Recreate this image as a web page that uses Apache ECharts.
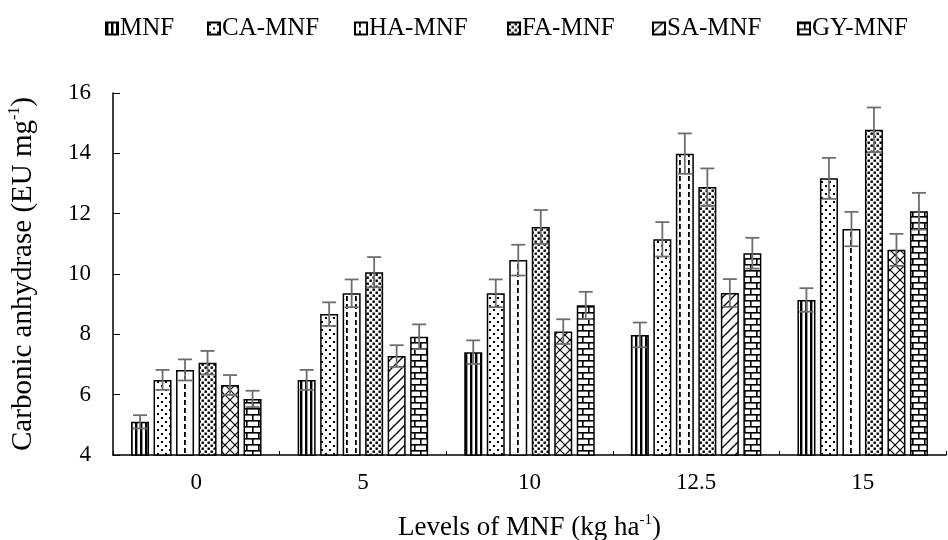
<!DOCTYPE html>
<html>
<head>
<meta charset="utf-8">
<script src="https://cdn.jsdelivr.net/npm/echarts@6/dist/echarts.min.js"></script>
<style>html,body{margin:0;padding:0;background:#fff}#c{width:948px;height:540px}</style>
</head>
<body>
<div id="c"></div>
<script>
var categories = ['0', '5', '10', '12.5', '15'];
var seriesNames = ['MNF', 'CA-MNF', 'HA-MNF', 'FA-MNF', 'SA-MNF', 'GY-MNF'];
var MNF    = [5.10, 6.49, 7.41, 7.98, 9.14];
var CA_MNF = [6.49, 8.67, 9.36, 11.15, 13.17];
var HA_MNF = [6.82, 9.36, 10.46, 13.99, 11.49];
var FA_MNF = [7.06, 10.06, 11.56, 12.88, 14.78];
var SA_MNF = [6.32, 7.28, 8.09, 9.37, 10.80];
var GY_MNF = [5.86, 7.92, 8.96, 10.69, 12.08];
var MNF_err    = [0.22, 0.33, 0.39, 0.41, 0.39];
var CA_MNF_err = [0.33, 0.39, 0.46, 0.57, 0.68];
var HA_MNF_err = [0.35, 0.46, 0.51, 0.67, 0.57];
var FA_MNF_err = [0.39, 0.50, 0.56, 0.62, 0.74];
var SA_MNF_err = [0.33, 0.36, 0.41, 0.46, 0.53];
var GY_MNF_err = [0.27, 0.41, 0.45, 0.51, 0.61];
var yTicks = [4, 6, 8, 10, 12, 14, 16];

var values = [MNF, CA_MNF, HA_MNF, FA_MNF, SA_MNF, GY_MNF];
var errors = [MNF_err, CA_MNF_err, HA_MNF_err, FA_MNF_err, SA_MNF_err, GY_MNF_err];

function makeCanvas(w, h, draw) {
  var c = document.createElement('canvas');
  c.width = w; c.height = h;
  var ctx = c.getContext('2d');
  ctx.fillStyle = '#fff'; ctx.fillRect(0, 0, w, h);
  ctx.fillStyle = '#000'; ctx.strokeStyle = '#000';
  draw(ctx, w, h);
  return c;
}
var patMNF = makeCanvas(5, 6, function (ctx) { ctx.fillRect(0, 0, 2.4, 6); });
var patCA = makeCanvas(8, 8, function (ctx) { ctx.fillRect(1, 1, 2, 2); ctx.fillRect(5, 5, 2, 2); });
var patHA = makeCanvas(9, 8, function (ctx) { ctx.fillRect(4, 0, 1.8, 5); });
var patFA = makeCanvas(6, 6, function (ctx) {
  ctx.fillRect(0.5, 0.5, 2.4, 2.4);
  ctx.fillRect(3.5, 3.5, 2.4, 2.4);
});
var patSAdiag = makeCanvas(10, 10, function (ctx) {
  ctx.lineWidth = 1.3;
  ctx.beginPath(); ctx.moveTo(-1, 11); ctx.lineTo(11, -1); ctx.stroke();
  ctx.beginPath(); ctx.moveTo(-1, 1); ctx.lineTo(1, -1); ctx.stroke();
  ctx.beginPath(); ctx.moveTo(9, 11); ctx.lineTo(11, 9); ctx.stroke();
});
var patSAcross = makeCanvas(10, 10, function (ctx) {
  ctx.lineWidth = 1.2;
  ctx.beginPath(); ctx.moveTo(-1, 11); ctx.lineTo(11, -1); ctx.stroke();
  ctx.beginPath(); ctx.moveTo(-1, -1); ctx.lineTo(11, 11); ctx.stroke();
});
var patGY = makeCanvas(12, 12, function (ctx) {
  ctx.fillRect(0, 0, 12, 1.6);
  ctx.fillRect(0, 6, 12, 1.6);
  ctx.fillRect(6, 0, 1.6, 6);
  ctx.fillRect(0, 6, 1.6, 6);
});
var patterns = [patMNF, patCA, patHA, patFA, patSAdiag, patGY];

var barWidth = 18;
var barGapPx = 4.5;

var series = seriesNames.map(function (name, si) {
  return {
    name: name,
    type: 'bar',
    barWidth: barWidth,
    barGap: '25%',
    itemStyle: {
      color: { image: patterns[si], repeat: 'repeat' },
      borderColor: '#000',
      borderWidth: 1.5
    },
    data: values[si].map(function (v, ci) {
      if (si === 4 && (ci === 0 || ci === 2 || ci === 4)) {
        return { value: v, itemStyle: { color: { image: patSAcross, repeat: 'repeat' } } };
      }
      return v;
    }),
    z: 2
  };
});

var errData = [];
values.forEach(function (arr, si) {
  arr.forEach(function (v, ci) {
    errData.push([ci, v, errors[si][ci], si]);
  });
});

series.push({
  type: 'custom',
  name: 'err',
  z: 5,
  silent: true,
  encode: { x: 0, y: 1 },
  data: errData,
  renderItem: function (params, api) {
    var ci = api.value(0), v = api.value(1), e = api.value(2), si = api.value(3);
    var hi = api.coord([ci, v + e]);
    var lo = api.coord([ci, v - e]);
    var x = hi[0] + (si - 2.5) * (barWidth + barGapPx);
    var cap = 7;
    var st = { stroke: '#6e6e6e', lineWidth: 1.8 };
    return {
      type: 'group',
      children: [
        { type: 'line', shape: { x1: x, y1: hi[1], x2: x, y2: lo[1] }, style: st },
        { type: 'line', shape: { x1: x - cap, y1: hi[1], x2: x + cap, y2: hi[1] }, style: st },
        { type: 'line', shape: { x1: x - cap, y1: lo[1], x2: x + cap, y2: lo[1] }, style: st }
      ]
    };
  }
});

var legendLefts = [100, 202, 349, 502, 647, 792];
var legends = seriesNames.map(function (n, i) {
  return {
    data: [n],
    left: legendLefts[i],
    top: 11,
    icon: 'rect',
    itemWidth: 12,
    itemHeight: 12,
    selectedMode: false,
    textStyle: { fontFamily: 'Liberation Serif', fontSize: 25, color: '#000', padding: [0, 0, 0, -3] }
  };
});

var serif = 'Liberation Serif';
var chart = echarts.init(document.getElementById('c'), null, { renderer: 'canvas' });
chart.setOption({
  animation: false,
  backgroundColor: '#fff',
  legend: legends,
  grid: { left: 113, right: 2, top: 93, bottom: 85, outerBoundsMode: 'none', containLabel: false },
  xAxis: {
    type: 'category',
    data: categories,
    boundaryGap: true,
    axisLine: { show: true, lineStyle: { color: '#000', width: 1.5 } },
    axisTick: { show: true, inside: true, length: 4, interval: 0, lineStyle: { color: '#000' } },
    axisLabel: { fontFamily: serif, fontSize: 23, color: '#000', margin: 16 },
    name: 'Levels of MNF (kg ha{sup|-1})',
    nameLocation: 'middle',
    nameGap: 58,
    nameTextStyle: {
      fontFamily: serif, fontSize: 27, color: '#000', lineHeight: 30,
      rich: { sup: { fontFamily: serif, fontSize: 15, color: '#000', verticalAlign: 'top', lineHeight: 30 } }
    }
  },
  yAxis: {
    type: 'value',
    min: 4, max: 16, interval: 2,
    axisLine: { show: true, lineStyle: { color: '#000', width: 1.5 } },
    axisTick: { show: true, inside: true, length: 7, lineStyle: { color: '#000' } },
    splitLine: { show: false },
    axisLabel: { fontFamily: serif, fontSize: 23, color: '#000', margin: 22,
      formatter: function (v) { return yTicks.indexOf(v) >= 0 ? String(v) : ''; } },
    name: 'Carbonic anhydrase (EU mg{sup|-1})',
    nameLocation: 'middle',
    nameRotate: 90,
    nameGap: 74,
    nameTextStyle: {
      fontFamily: serif, fontSize: 29, color: '#000', lineHeight: 32,
      rich: { sup: { fontFamily: serif, fontSize: 16, color: '#000', verticalAlign: 'top', lineHeight: 32 } }
    }
  },
  series: series
});
</script>
</body>
</html>
